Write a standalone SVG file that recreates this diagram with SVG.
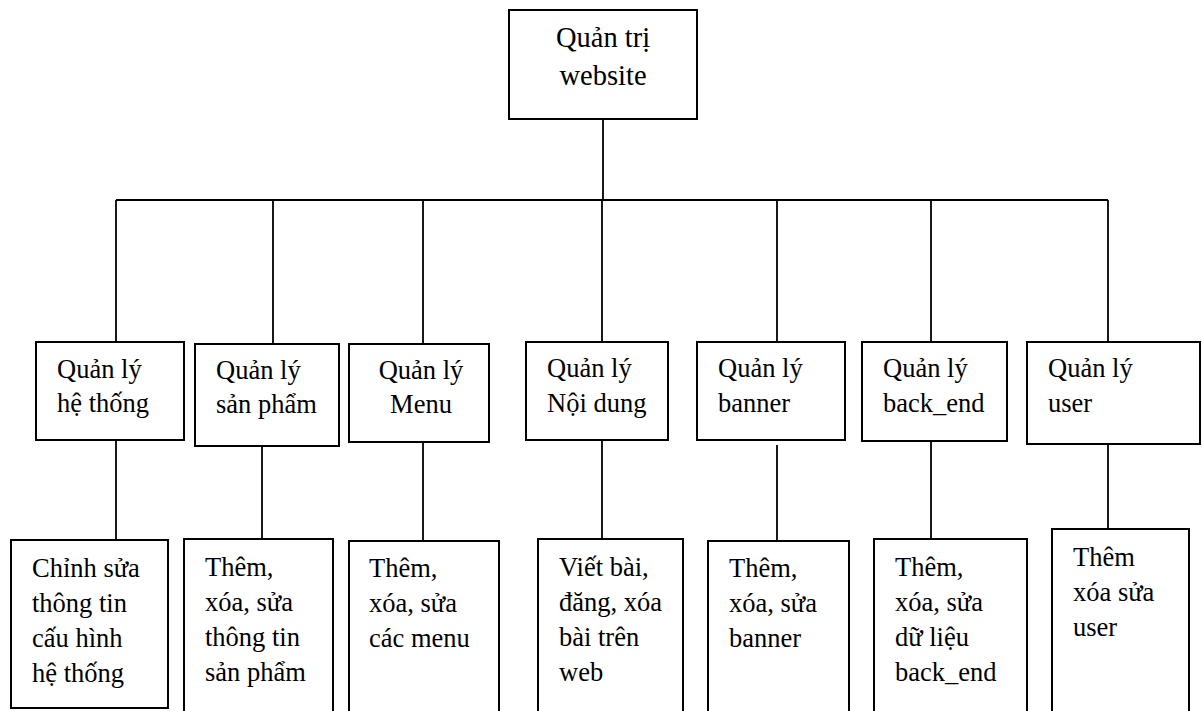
<svg xmlns="http://www.w3.org/2000/svg" width="1202" height="711" viewBox="0 0 1202 711">
  <style>
    .box { fill: #ffffff; stroke: #000000; stroke-width: 2; }
    .link { fill: none; stroke: #000000; stroke-width: 1.8; }
    .t { font-family: "Liberation Serif", "DejaVu Serif", serif; font-size: 26.5px; fill: #000000; }
    .root { font-family: "Liberation Serif", "DejaVu Serif", serif; font-size: 28.5px; text-anchor: middle; fill: #000000; }
    .mid { text-anchor: middle; }
  </style>
  <rect width="1202" height="711" fill="#ffffff"/>

  <!-- tree connectors -->
  <g id="connectors">
    <line class="link" x1="603" y1="119" x2="603" y2="200"/>
    <line class="link" x1="116" y1="200" x2="1108" y2="200"/>
    <line class="link" x1="116" y1="200" x2="116" y2="342"/>
    <line class="link" x1="273" y1="200" x2="273" y2="344"/>
    <line class="link" x1="423" y1="200" x2="423" y2="344"/>
    <line class="link" x1="602" y1="200" x2="602" y2="342"/>
    <line class="link" x1="777" y1="200" x2="777" y2="342"/>
    <line class="link" x1="931" y1="200" x2="931" y2="342"/>
    <line class="link" x1="1108" y1="200" x2="1108" y2="342"/>

    <line class="link" x1="116" y1="440" x2="116" y2="540"/>
    <line class="link" x1="262" y1="446" x2="262" y2="539"/>
    <line class="link" x1="423" y1="442" x2="423" y2="541"/>
    <line class="link" x1="602" y1="440" x2="602" y2="539"/>
    <line class="link" x1="777" y1="445" x2="777" y2="541"/>
    <line class="link" x1="931" y1="441" x2="931" y2="539"/>
    <line class="link" x1="1108" y1="444" x2="1108" y2="529"/>
  </g>

  <!-- root -->
  <g id="root">
    <rect class="box" x="509" y="10" width="188" height="109"/>
    <text class="root" x="603" y="47">Quản trị</text>
    <text class="root" x="603" y="85">website</text>
  </g>

  <!-- second level -->
  <g id="he-thong">
    <rect class="box" x="36" y="342" width="148" height="98"/>
    <text class="t" x="57" y="378">Quản lý</text>
    <text class="t" x="57" y="412">hệ thống</text>
  </g>
  <g id="san-pham">
    <rect class="box" x="195" y="344" width="144" height="102"/>
    <text class="t" x="216" y="379">Quản lý</text>
    <text class="t" x="216" y="413">sản phẩm</text>
  </g>
  <g id="menu">
    <rect class="box" x="349" y="344" width="140" height="98"/>
    <text class="t mid" x="421" y="379">Quản lý</text>
    <text class="t mid" x="421" y="413">Menu</text>
  </g>
  <g id="noi-dung">
    <rect class="box" x="526" y="342" width="142" height="98"/>
    <text class="t" x="547" y="377">Quản lý</text>
    <text class="t" x="547" y="412">Nội dung</text>
  </g>
  <g id="banner">
    <rect class="box" x="697" y="342" width="148" height="98"/>
    <text class="t" x="718" y="377">Quản lý</text>
    <text class="t" x="718" y="412">banner</text>
  </g>
  <g id="back-end">
    <rect class="box" x="862" y="342" width="145" height="99"/>
    <text class="t" x="883" y="377">Quản lý</text>
    <text class="t" x="883" y="412">back_end</text>
  </g>
  <g id="user">
    <rect class="box" x="1027" y="342" width="173" height="102"/>
    <text class="t" x="1048" y="377">Quản lý</text>
    <text class="t" x="1048" y="412">user</text>
  </g>

  <!-- third level -->
  <g id="he-thong-detail">
    <rect class="box" x="11" y="540" width="157" height="168"/>
    <text class="t" x="32" y="577">Chỉnh sửa</text>
    <text class="t" x="32" y="612">thông tin</text>
    <text class="t" x="32" y="647">cấu hình</text>
    <text class="t" x="32" y="682">hệ thống</text>
  </g>
  <g id="san-pham-detail">
    <rect class="box" x="184" y="539" width="149" height="180"/>
    <text class="t" x="205" y="576">Thêm,</text>
    <text class="t" x="205" y="611">xóa, sửa</text>
    <text class="t" x="205" y="646">thông tin</text>
    <text class="t" x="205" y="681">sản phẩm</text>
  </g>
  <g id="menu-detail">
    <rect class="box" x="349" y="541" width="150" height="180"/>
    <text class="t" x="369" y="577">Thêm,</text>
    <text class="t" x="369" y="612">xóa, sửa</text>
    <text class="t" x="369" y="647">các menu</text>
  </g>
  <g id="noi-dung-detail">
    <rect class="box" x="538" y="539" width="145" height="180"/>
    <text class="t" x="559" y="576">Viết bài,</text>
    <text class="t" x="559" y="611">đăng, xóa</text>
    <text class="t" x="559" y="646">bài trên</text>
    <text class="t" x="559" y="681">web</text>
  </g>
  <g id="banner-detail">
    <rect class="box" x="708" y="541" width="141" height="180"/>
    <text class="t" x="729" y="577">Thêm,</text>
    <text class="t" x="729" y="612">xóa, sửa</text>
    <text class="t" x="729" y="647">banner</text>
  </g>
  <g id="back-end-detail">
    <rect class="box" x="874" y="539" width="153" height="180"/>
    <text class="t" x="895" y="576">Thêm,</text>
    <text class="t" x="895" y="611">xóa, sửa</text>
    <text class="t" x="895" y="646">dữ liệu</text>
    <text class="t" x="895" y="681">back_end</text>
  </g>
  <g id="user-detail">
    <rect class="box" x="1052" y="529" width="137" height="190"/>
    <text class="t" x="1073" y="566">Thêm</text>
    <text class="t" x="1073" y="601">xóa sửa</text>
    <text class="t" x="1073" y="636">user</text>
  </g>
</svg>
